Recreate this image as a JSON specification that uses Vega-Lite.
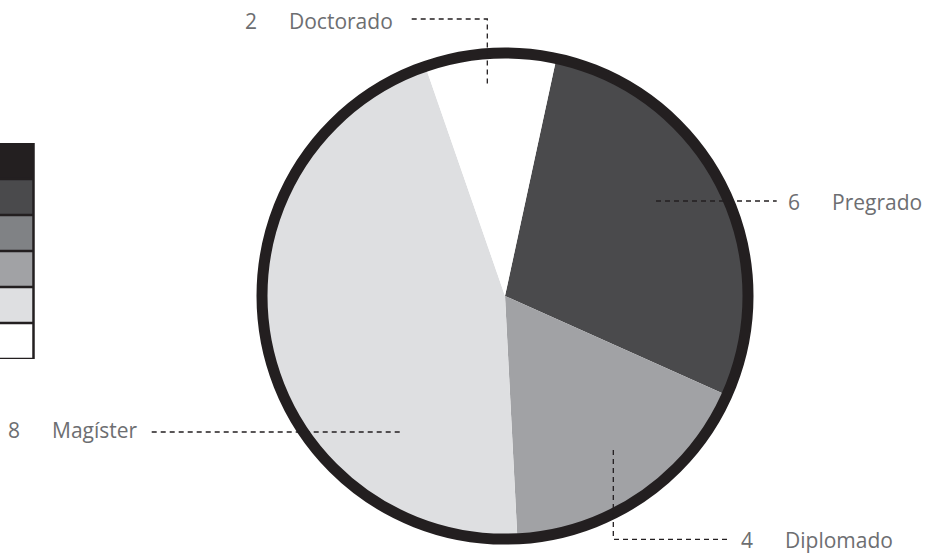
{
  "$schema": "https://vega.github.io/schema/vega-lite/v6.json",
  "width": 927,
  "height": 553,
  "autosize": {"type": "none"},
  "padding": 0,
  "background": "#ffffff",
  "config": {"view": {"stroke": null}},
  "datasets": {
    "slices": [
      {"cat": "Pregrado", "n": 6, "pct": 28.3, "idx": 1},
      {"cat": "Diplomado", "n": 4, "pct": 17.5, "idx": 2},
      {"cat": "Magíster", "n": 8, "pct": 45.5, "idx": 3},
      {"cat": "Doctorado", "n": 2, "pct": 8.7, "idx": 4}
    ],
    "leaders": [
      {"cat": "Doctorado", "seq": 1, "lx": -0.3840, "ly": 1.1399},
      {"cat": "Doctorado", "seq": 2, "lx": -0.0728, "ly": 1.1399},
      {"cat": "Doctorado", "seq": 3, "lx": -0.0728, "ly": 0.8683},
      {"cat": "Pregrado", "seq": 1, "lx": 0.6214, "ly": 0.3909},
      {"cat": "Pregrado", "seq": 2, "lx": 1.1181, "ly": 0.3909},
      {"cat": "Diplomado", "seq": 1, "lx": 0.4457, "ly": -0.6337},
      {"cat": "Diplomado", "seq": 2, "lx": 0.4457, "ly": -1.0012},
      {"cat": "Diplomado", "seq": 3, "lx": 0.9177, "ly": -1.0012},
      {"cat": "Magíster", "seq": 1, "lx": -1.4539, "ly": -0.5597},
      {"cat": "Magíster", "seq": 2, "lx": -0.4251, "ly": -0.5597}
    ],
    "labels": [
      {"cat": "Doctorado", "n": 2, "tx": -1.0700, "ty": 1.0988},
      {"cat": "Pregrado", "n": 6, "tx": 1.1646, "ty": 0.3539},
      {"cat": "Diplomado", "n": 4, "tx": 0.9712, "ty": -1.0370},
      {"cat": "Magíster", "n": 8, "tx": -2.0453, "ty": -0.5844}
    ]
  },
  "layer": [
    {
      "data": {"name": "slices"},
      "mark": {"type": "arc", "outerRadius": 243, "stroke": null},
      "encoding": {
        "theta": {"field": "pct", "type": "quantitative", "stack": true, "scale": {"range": [0.2129, 6.4961]}},
        "order": {"field": "idx", "type": "quantitative"},
        "color": {
          "field": "cat",
          "type": "nominal",
          "scale": {
            "domain": ["Técnico", "Pregrado", "Especialización", "Diplomado", "Magíster", "Doctorado"],
            "range": ["#231f20", "#4a4a4c", "#808285", "#a1a2a5", "#dedfe1", "#ffffff"]
          },
          "legend": {
            "orient": "none",
            "legendX": -4,
            "legendY": 143,
            "title": null,
            "padding": 0,
            "symbolType": "square",
            "symbolSize": 1296,
            "symbolStrokeColor": "#231f20",
            "symbolStrokeWidth": 2.5,
            "symbolOpacity": 1,
            "rowPadding": 0,
            "clipHeight": 36,
            "labelExpr": "''",
            "labelFontSize": 1
          }
        },
        "x": {"datum": 0, "type": "quantitative", "scale": {"domain": [-2.0782, 1.7366], "nice": false, "zero": false}, "axis": null},
        "y": {"datum": 0, "type": "quantitative", "scale": {"domain": [-1.0576, 1.2181], "nice": false, "zero": false}, "axis": null}
      }
    },
    {
      "data": {"values": [{"ring": "borde"}]},
      "mark": {"type": "point", "shape": "circle", "filled": false, "fill": null, "stroke": "#231f20", "strokeWidth": 11, "size": 236196, "opacity": 1},
      "encoding": {
        "x": {"datum": 0, "type": "quantitative"},
        "y": {"datum": 0, "type": "quantitative"}
      }
    },
    {
      "data": {"name": "leaders"},
      "mark": {"type": "line", "stroke": "#231f20", "strokeWidth": 1.3, "strokeDash": [5, 4]},
      "encoding": {
        "x": {"field": "lx", "type": "quantitative"},
        "y": {"field": "ly", "type": "quantitative"},
        "detail": {"field": "cat", "type": "nominal"},
        "order": {"field": "seq", "type": "quantitative"}
      }
    },
    {
      "data": {"name": "labels"},
      "mark": {"type": "text", "align": "left", "baseline": "alphabetic", "font": "Open Sans", "fontSize": 21, "color": "#6d6e71"},
      "encoding": {
        "x": {"field": "tx", "type": "quantitative"},
        "y": {"field": "ty", "type": "quantitative"},
        "text": {"field": "n", "type": "quantitative"}
      }
    },
    {
      "data": {"name": "labels"},
      "mark": {"type": "text", "align": "left", "baseline": "alphabetic", "font": "Open Sans", "fontSize": 21, "color": "#6d6e71", "dx": 44},
      "encoding": {
        "x": {"field": "tx", "type": "quantitative"},
        "y": {"field": "ty", "type": "quantitative"},
        "text": {"field": "cat", "type": "nominal"}
      }
    }
  ]
}
